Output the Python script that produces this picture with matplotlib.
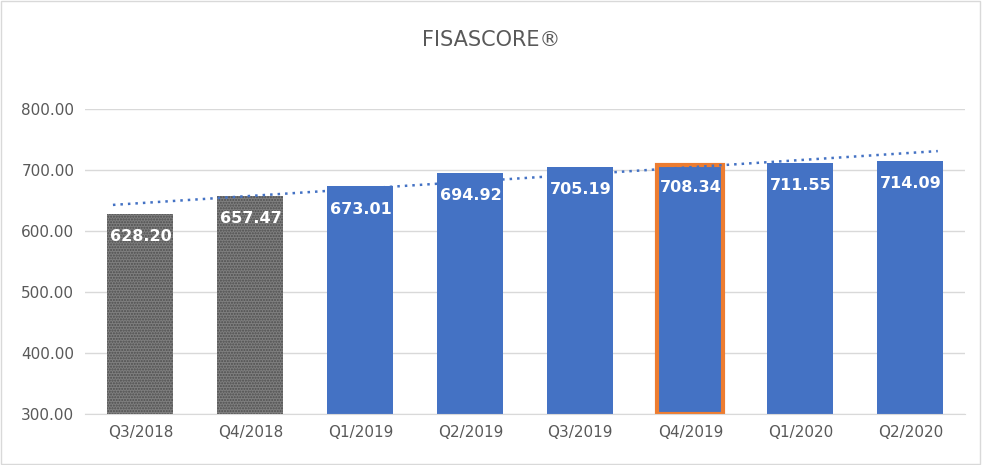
import matplotlib
matplotlib.use("Agg")
import matplotlib.pyplot as plt
import numpy as np

categories = ["Q3/2018","Q4/2018","Q1/2019","Q2/2019","Q3/2019","Q4/2019","Q1/2020","Q2/2020"]
values = [628.20,657.47,673.01,694.92,705.19,708.34,711.55,714.09]
yticks = [300,400,500,600,700,800]

fig = plt.figure(figsize=(9.82,4.65), dpi=100)
fig.patches.append(plt.Rectangle((0.001,0.002),0.997,0.995,transform=fig.transFigure,
                                 fill=False,edgecolor="#d9d9d9",lw=1))
ax = fig.add_axes([0.087,0.11,0.896,0.656])
x = np.arange(len(categories))
blue = "#4472c4"
for i,v in enumerate(values):
    if i < 2:
        ax.bar(i, v-300, bottom=300, width=0.6, color="#7f7f7f", hatch="......",
               edgecolor="#4d4d4d", linewidth=0, zorder=2)
    elif i == 5:
        ax.bar(i, v-300, bottom=300, width=0.6, color=blue, edgecolor="#ed7d31",
               linewidth=3, zorder=2)
    else:
        ax.bar(i, v-300, bottom=300, width=0.6, color=blue, zorder=2)
    ax.text(i, v-25, f"{v:.2f}", ha="center", va="top", color="white",
            fontsize=11.5, fontweight="bold", zorder=3)
m,b = np.polyfit(x, values, 1)
xt = np.array([-0.25, 7.25])
ax.plot(xt, m*xt+b, ls=(0,(1,2)), color=blue, lw=1.8, zorder=3)
ax.set_ylim(300,800)
ax.set_xlim(-0.5,7.5)
ax.set_yticks(yticks)
ax.set_yticklabels([f"{t:.2f}" for t in yticks], color="#595959", fontsize=11)
ax.set_xticks(x)
ax.set_xticklabels(categories, color="#595959", fontsize=11)
ax.yaxis.grid(True, color="#d9d9d9", lw=1, zorder=0)
ax.set_axisbelow(True)
for s in ["top","right","left"]:
    ax.spines[s].set_visible(False)
ax.spines["bottom"].set_color("#d9d9d9")
ax.tick_params(length=0, pad=8)
fig.text(0.5, 0.915, "FISASCORE®", ha="center", va="center", fontsize=15, color="#595959")
fig.savefig("out.png", dpi=100)
